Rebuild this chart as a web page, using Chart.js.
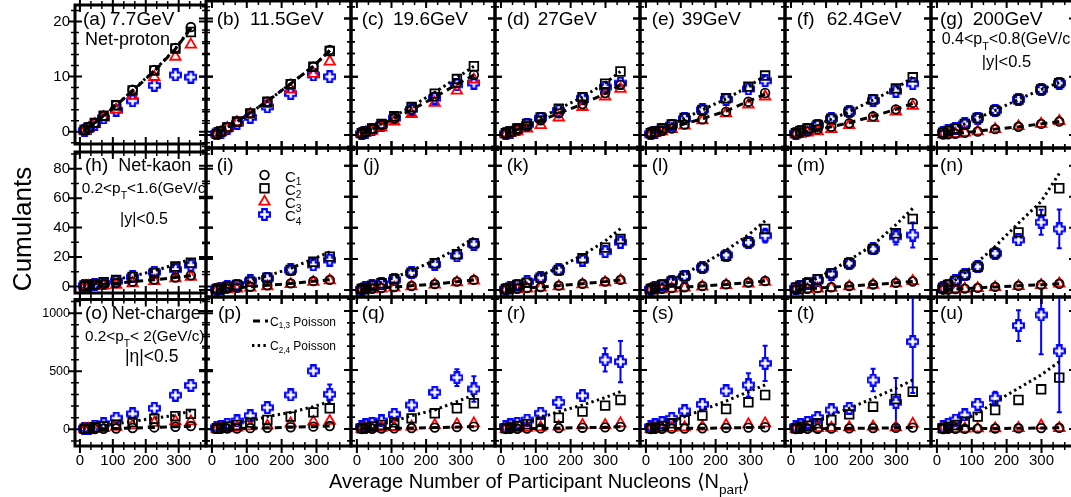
<!DOCTYPE html>
<html><head><meta charset="utf-8">
<script src="https://cdn.jsdelivr.net/npm/chart.js@4.4.1/dist/chart.umd.min.js"></script>
<style>
html,body{margin:0;padding:0;background:#fff;}
body{width:1071px;height:497px;overflow:hidden;}
#wrap{position:relative;width:1071px;height:497px;overflow:hidden;font-family:"Liberation Sans",Arial,Helvetica,sans-serif;color:#000;background:#fff;}
#wrap canvas{position:absolute;}
.clip{position:absolute;overflow:hidden;}
.t{position:absolute;white-space:nowrap;line-height:1;}
.sb{position:relative;font-size:0.68em;}
</style></head><body><div id="wrap"></div>
<script>
// ---------------- DATA ----------------
const energies = ['7.7GeV','11.5GeV','19.6GeV','27GeV','39GeV','62.4GeV','200GeV'];
const panelLetters = [['a','b','c','d','e','f','g'],['h','i','j','k','l','m','n'],['o','p','q','r','s','t','u']];
const speciesNames = ['Net-proton','Net-kaon','Net-charge'];
const xTickLabels = [0, 100, 200, 300];
const yTickLabels = [[0, 10, 20], [0, 20, 40, 60, 80], [0, 500, 1000]];

// <Npart> per energy (centrality 0-5% ... 70-80%)
const npart = [
 [337, 290, 226, 160, 110, 72, 45, 26, 14],
 [338, 291, 226, 159, 110, 72, 44, 26, 14],
 [338, 289, 225, 158, 108, 71, 44, 25, 14],
 [343, 299, 234, 166, 114, 75, 47, 27, 14],
 [342, 294, 230, 162, 111, 74, 46, 26, 14],
 [347, 299, 234, 166, 115, 76, 47, 27, 14],
 [351, 299, 234, 167, 117, 80, 53, 32, 18]];

// Net-proton
const protonC1 = [
 [19.0, 15.2, 11.2, 7.6, 4.8, 2.9, 1.6, 0.75, 0.3],
 [14.6, 11.7, 8.8, 5.7, 3.7, 2.3, 1.3, 0.6, 0.2],
 [10.3, 8.9, 6.6, 4.4, 2.9, 1.7, 1.0, 0.5, 0.2],
 [8.6, 7.2, 5.3, 3.7, 2.5, 1.5, 0.9, 0.5, 0.2],
 [7.2, 5.7, 4.0, 2.7, 1.8, 1.1, 0.7, 0.4, 0.2],
 [5.5, 4.4, 3.2, 2.0, 1.4, 1.0, 0.6, 0.4, 0.2],
 [2.3, 1.9, 1.4, 1.0, 0.6, 0.35, 0.2, 0.12, 0.06]];
const protonC2 = [
 [18.1, 15.1, 11.1, 7.5, 4.8, 2.9, 1.6, 0.75, 0.3],
 [14.4, 11.7, 8.7, 5.7, 3.7, 2.3, 1.3, 0.6, 0.2],
 [11.8, 9.6, 7.1, 4.8, 3.2, 1.9, 1.1, 0.6, 0.3],
 [10.9, 8.8, 6.5, 4.5, 3.0, 1.9, 1.1, 0.6, 0.3],
 [10.2, 8.3, 6.3, 4.3, 2.9, 1.8, 1.1, 0.6, 0.3],
 [9.9, 8.0, 6.1, 4.0, 2.8, 1.7, 1.1, 0.7, 0.3],
 [8.9, 7.8, 6.1, 4.2, 2.9, 1.9, 1.1, 0.7, 0.4]];
const protonC3 = [
 [15.8, 13.6, 9.9, 6.5, 4.0, 2.6, 1.4, 0.6, 0.2],
 [12.6, 10.5, 7.8, 5.3, 3.6, 2.2, 1.2, 0.5, 0.2],
 [9.5, 7.6, 5.5, 3.6, 2.3, 1.3, 0.7, 0.4, 0.2],
 [7.9, 6.6, 4.8, 3.0, 1.7, 1.1, 0.6, 0.3, 0.1],
 [6.6, 5.2, 3.7, 2.5, 1.6, 1.0, 0.6, 0.3, 0.1],
 [5.0, 4.0, 2.9, 1.7, 1.0, 0.6, 0.4, 0.2, 0.1],
 [2.4, 1.9, 1.5, 1.0, 0.6, 0.4, 0.2, 0.1, 0.05]];
const protonC4 = [
 [9.9, 10.3, 8.4, 5.6, 3.9, 2.5, 1.3, 0.6, 0.2],
 [10.0, 10.3, 7.1, 4.8, 3.0, 2.0, 1.1, 0.5, 0.2],
 [8.9, 8.6, 6.3, 4.4, 2.9, 1.7, 1.0, 0.5, 0.2],
 [8.9, 8.2, 6.3, 4.2, 2.9, 1.8, 1.0, 0.5, 0.2],
 [9.3, 7.9, 6.1, 4.3, 2.8, 1.7, 1.0, 0.5, 0.2],
 [8.8, 7.5, 5.9, 4.0, 2.8, 1.7, 1.0, 0.6, 0.3],
 [8.9, 7.8, 6.1, 4.2, 2.9, 1.9, 1.1, 0.7, 0.4]];
const protonC4err = [
 [1.0, 0.6, 0.4, 0.3, 0.2, 0.1, 0.1, 0.05, 0.03],
 [0.5, 0.5, 0.3, 0.2, 0.1, 0.1, 0.05, 0.03, 0.02],
 [0.5, 0.4, 0.3, 0.2, 0.1, 0.1, 0.05, 0.03, 0.02],
 [0.4, 0.3, 0.2, 0.1, 0.1, 0.05, 0.03, 0.02, 0.01],
 [0.4, 0.3, 0.2, 0.1, 0.1, 0.05, 0.03, 0.02, 0.01],
 [0.4, 0.3, 0.2, 0.1, 0.1, 0.05, 0.03, 0.02, 0.01],
 [0.3, 0.2, 0.1, 0.1, 0.05, 0.03, 0.02, 0.01, 0.01]];
const protonPois13 = [
 [18.8, 15.0, 11.0, 7.4, 4.8, 2.9, 1.6, 0.8, 0.3],
 [14.5, 11.8, 8.8, 5.8, 3.8, 2.3, 1.3, 0.6, 0.2],
 [10.3, 8.7, 6.5, 4.3, 2.9, 1.7, 1.0, 0.5, 0.2],
 [8.6, 7.1, 5.3, 3.7, 2.5, 1.5, 0.9, 0.5, 0.2],
 [7.0, 5.8, 4.1, 2.8, 1.9, 1.2, 0.7, 0.4, 0.2],
 [5.4, 4.4, 3.2, 2.1, 1.4, 0.9, 0.6, 0.3, 0.15],
 [2.3, 1.9, 1.4, 1.0, 0.65, 0.4, 0.25, 0.15, 0.08]];
const protonPois24 = [
 [18.8, 15.1, 11.1, 7.5, 4.8, 2.9, 1.6, 0.8, 0.3],
 [14.5, 11.8, 8.8, 5.8, 3.8, 2.3, 1.3, 0.6, 0.2],
 [11.8, 9.8, 7.3, 4.9, 3.2, 1.9, 1.1, 0.6, 0.3],
 [10.9, 8.9, 6.5, 4.5, 3.0, 1.8, 1.1, 0.6, 0.3],
 [10.2, 8.3, 6.2, 4.3, 2.9, 1.8, 1.1, 0.6, 0.3],
 [9.9, 8.0, 6.0, 4.0, 2.7, 1.7, 1.0, 0.6, 0.3],
 [9.0, 7.8, 6.1, 4.2, 2.9, 1.9, 1.2, 0.7, 0.4]];

// Net-kaon
const kaonC1 = [
 [7.5, 6.0, 4.6, 3.2, 2.2, 1.5, 0.9, 0.5, 0.3],
 [6.5, 5.7, 4.3, 3.0, 2.1, 1.4, 0.9, 0.5, 0.3],
 [6.5, 5.4, 3.8, 2.6, 1.9, 1.3, 0.8, 0.5, 0.2],
 [6.5, 5.4, 4.0, 2.8, 1.9, 1.3, 0.8, 0.5, 0.2],
 [5.8, 4.8, 3.6, 2.6, 1.8, 1.2, 0.8, 0.4, 0.2],
 [5.5, 4.6, 3.5, 2.5, 1.8, 1.2, 0.8, 0.4, 0.2],
 [4.0, 3.4, 2.7, 2.0, 1.4, 0.9, 0.6, 0.3, 0.2]];
const kaonC2 = [
 [16.1, 13.5, 9.2, 6.4, 4.3, 2.8, 1.5, 1.0, 0.6],
 [21.5, 18.2, 12.9, 7.9, 5.4, 3.2, 2.1, 1.1, 0.6],
 [30.0, 23.0, 17.2, 11.2, 6.9, 4.3, 2.8, 1.5, 0.6],
 [32.8, 27.3, 20.4, 12.9, 7.9, 4.7, 3.2, 1.5, 0.6],
 [39.3, 30.7, 22.1, 14.4, 9.0, 5.5, 3.3, 1.7, 0.7],
 [45.7, 36.5, 26.4, 17.2, 10.7, 6.9, 4.3, 2.8, 1.5],
 [65.5, 50.9, 37.1, 23.6, 15.0, 9.7, 5.8, 3.2, 1.5]];
const kaonC3 = [
 [6.4, 5.4, 3.6, 2.1, 1.1, 0.6, 0.3, 0.2, 0.1],
 [6.2, 5.2, 3.8, 2.4, 1.5, 0.9, 0.5, 0.3, 0.1],
 [6.0, 5.0, 3.5, 2.3, 1.5, 0.9, 0.5, 0.3, 0.1],
 [6.3, 5.0, 3.6, 2.4, 1.5, 0.9, 0.5, 0.3, 0.1],
 [5.2, 4.2, 3.2, 2.2, 1.5, 0.9, 0.5, 0.3, 0.1],
 [5.8, 4.3, 3.3, 2.3, 1.4, 0.9, 0.5, 0.3, 0.1],
 [4.2, 3.2, 2.5, 1.8, 1.2, 0.8, 0.5, 0.3, 0.1]];
const kaonC4 = [
 [14.4, 11.4, 9.7, 6.4, 3.6, 2.1, 1.3, 0.8, 0.5],
 [19.3, 16.1, 12.9, 7.5, 5.8, 3.2, 2.0, 1.0, 0.5],
 [29.5, 22.0, 16.5, 11.0, 6.5, 4.0, 2.6, 1.4, 0.6],
 [30.7, 24.7, 19.3, 12.9, 7.9, 5.4, 3.0, 1.5, 0.6],
 [35.0, 30.5, 22.5, 14.4, 8.7, 5.3, 3.2, 1.6, 0.6],
 [35.4, 34.3, 26.4, 17.2, 10.3, 6.4, 4.3, 2.1, 1.1],
 [39.3, 43.6, 32.2, 23.6, 15.0, 9.7, 5.8, 3.2, 1.5]];
const kaonC4err = [
 [1.5, 1.2, 0.8, 0.5, 0.3, 0.2, 0.1, 0.1, 0.05],
 [2.0, 1.5, 1.0, 0.6, 0.4, 0.2, 0.1, 0.1, 0.05],
 [2.5, 2.0, 1.2, 0.7, 0.4, 0.2, 0.1, 0.1, 0.05],
 [3.5, 2.5, 1.5, 0.8, 0.5, 0.3, 0.2, 0.1, 0.05],
 [4.5, 2.5, 1.5, 0.8, 0.5, 0.3, 0.2, 0.1, 0.05],
 [8.0, 5.0, 2.0, 1.0, 0.6, 0.3, 0.2, 0.1, 0.05],
 [12.5, 8.0, 3.0, 1.5, 0.8, 0.4, 0.2, 0.1, 0.05]];
const kaonPois13 = [
 [7.3, 6.0, 4.5, 3.2, 2.2, 1.5, 0.9, 0.5, 0.3],
 [6.6, 5.6, 4.2, 3.0, 2.1, 1.4, 0.9, 0.5, 0.3],
 [6.4, 5.3, 3.9, 2.7, 1.9, 1.3, 0.8, 0.5, 0.2],
 [6.4, 5.4, 4.0, 2.8, 1.9, 1.3, 0.8, 0.5, 0.2],
 [5.8, 4.8, 3.6, 2.6, 1.8, 1.2, 0.8, 0.4, 0.2],
 [5.5, 4.6, 3.5, 2.5, 1.8, 1.2, 0.8, 0.4, 0.2],
 [4.0, 3.4, 2.7, 2.0, 1.4, 0.9, 0.6, 0.3, 0.2]];
const kaonPois24 = [
 [18.5, 15.0, 10.5, 7.0, 4.7, 3.0, 1.8, 1.0, 0.5],
 [24.5, 20.0, 14.0, 9.0, 6.0, 3.7, 2.2, 1.2, 0.6],
 [33.5, 26.5, 19.0, 12.5, 8.0, 5.0, 3.0, 1.6, 0.8],
 [39.5, 31.5, 22.5, 14.5, 9.3, 5.8, 3.4, 1.9, 0.9],
 [44.5, 35.5, 25.5, 16.5, 10.5, 6.5, 3.8, 2.1, 1.0],
 [52.5, 42.0, 29.0, 19.3, 12.5, 7.8, 4.6, 2.5, 1.2],
 [75.0, 57.0, 43.0, 28.0, 18.0, 11.0, 6.5, 3.5, 1.8]];

// Net-charge
const chargeC1 = [
 [28, 22, 16, 11, 7, 4.5, 2.8, 1.6, 0.8],
 [25, 20, 15, 10, 7, 4.5, 2.8, 1.6, 0.8],
 [20, 16, 12, 8, 5.5, 3.5, 2.2, 1.3, 0.6],
 [18, 14, 11, 7.5, 5, 3.2, 2, 1.2, 0.6],
 [15, 12, 9, 6.5, 4.5, 3, 1.8, 1, 0.5],
 [12, 10, 8, 5.5, 4, 2.5, 1.5, 0.9, 0.4],
 [10, 8, 6, 4.5, 3, 2, 1.2, 0.7, 0.3]];
const chargeC2 = [
 [133, 113, 90, 62, 40, 25, 17, 9, 4],
 [175, 141, 105, 76, 54, 34, 20, 11, 6],
 [218, 175, 133, 90, 56, 34, 20, 11, 6],
 [246, 198, 147, 96, 62, 40, 25, 14, 6],
 [288, 226, 169, 113, 76, 48, 25, 14, 6],
 [316, 254, 189, 124, 76, 48, 28, 17, 6],
 [435, 336, 246, 161, 105, 62, 34, 17, 6]];
const chargeC3 = [
 [68, 68, 56, 34, 20, 11, 6, 3, 1],
 [68, 62, 48, 28, 23, 11, 6, 3, 1],
 [48, 40, 34, 20, 17, 10, 6, 3, 1],
 [48, 34, 34, 20, 14, 9, 5, 3, 1],
 [48, 40, 34, 20, 14, 9, 5, 3, 1],
 [45, 15, 20, 15, 10, 8, 5, 3, 1],
 [8, 30, 8, 6, 5, 4, 3, 2, 1]];
const chargeC4 = [
 [378, 294, 181, 133, 96, 48, 28, 11, 6],
 [294, 492, 288, 181, 113, 68, 40, 20, 11],
 [339, 435, 311, 203, 124, 68, 48, 34, 17],
 [570, 585, 282, 226, 133, 76, 48, 34, 20],
 [556, 373, 322, 209, 153, 90, 54, 34, 17],
 [740, 226, 415, 175, 161, 96, 56, 34, 17],
 [661, 966, 876, 260, 209, 119, 76, 40, 20]];
const chargeC4err = [
 [45, 20, 15, 15, 15, 8, 5, 3, 2],
 [82, 42, 15, 12, 10, 8, 5, 3, 2],
 [108, 70, 15, 12, 10, 8, 5, 3, 2],
 [175, 99, 25, 15, 12, 8, 5, 3, 2],
 [150, 100, 25, 15, 12, 8, 5, 3, 2],
 [435, 205, 95, 25, 15, 10, 6, 3, 2],
 [520, 333, 130, 55, 25, 12, 8, 4, 2]];
const chargePois13 = [
 [27, 22, 16, 11, 7, 4.5, 2.8, 1.6, 0.8],
 [25, 20, 15, 10, 7, 4.5, 2.8, 1.6, 0.8],
 [20, 16, 12, 8, 5.5, 3.5, 2.2, 1.3, 0.6],
 [18, 14, 11, 7.5, 5, 3.2, 2, 1.2, 0.6],
 [15, 12, 9, 6.5, 4.5, 3, 1.8, 1, 0.5],
 [12, 10, 8, 5.5, 4, 2.5, 1.5, 0.9, 0.4],
 [10, 8, 6, 4.5, 3, 2, 1.2, 0.7, 0.3]];
const chargePois24 = [
 [161, 119, 96, 68, 48, 30, 17, 9, 4],
 [232, 189, 141, 105, 68, 42, 24, 13, 6],
 [288, 232, 161, 113, 68, 42, 24, 13, 6],
 [316, 266, 203, 147, 96, 58, 33, 17, 8],
 [373, 316, 237, 161, 105, 63, 36, 19, 9],
 [415, 345, 260, 175, 119, 72, 42, 22, 10],
 [570, 458, 345, 230, 133, 80, 46, 25, 12]];

// ---------------- LAYOUT ----------------
const colEdges = [75, 206, 351, 495, 640, 785, 931, 1076];
const rowEdges = [1, 148, 297, 446];
const xRangeFirstCol = [-15, 383];
const xRangeOther = [-17, 399];
const yRanges = [[-2.24, 23.0], [-4.5, 91.4], [-144, 1118]];
const yMajor = [10, 20, 500];
const yMinor = [2, 10, 100];
const yTickFont = [15, 15, 12.5];
const xMajor = 100, xMinor = 100 / 3;
const FONT = '"Liberation Sans", Arial, Helvetica, sans-serif';

Chart.defaults.font.family = FONT;
Chart.defaults.color = '#000';

const wrap = document.getElementById('wrap');

function makeCross() {
  const c = document.createElement('canvas');
  c.width = 13; c.height = 13;
  const g = c.getContext('2d');
  const m = 6.5, a = 2.3, L = 5.4;
  g.beginPath();
  g.moveTo(m - a, m - L); g.lineTo(m + a, m - L); g.lineTo(m + a, m - a); g.lineTo(m + L, m - a);
  g.lineTo(m + L, m + a); g.lineTo(m + a, m + a); g.lineTo(m + a, m + L); g.lineTo(m - a, m + L);
  g.lineTo(m - a, m + a); g.lineTo(m - L, m + a); g.lineTo(m - L, m - a); g.lineTo(m - a, m - a);
  g.closePath();
  g.fillStyle = '#ffffff'; g.fill();
  g.lineWidth = 2.1; g.strokeStyle = '#0000ff'; g.stroke();
  return c;
}
const crossImg = makeCross();

function tickValues(min, max, step) {
  const out = [];
  let k = Math.ceil(min / step - 1e-9);
  for (; k * step <= max + 1e-9; k++) out.push(k * step);
  return out;
}

const framePlugin = {
  id: 'frameTicks',
  beforeDatasetsDraw(chart) {
    const { ctx, chartArea: a, scales: { x, y } } = chart;
    ctx.save();
    ctx.beginPath(); ctx.rect(a.left, a.top, a.right - a.left, a.bottom - a.top); ctx.clip();
    ctx.strokeStyle = '#0000ff'; ctx.lineWidth = 2;
    chart.data.datasets.forEach(ds => {
      if (!ds.errors) return;
      ds.data.forEach((pt, j) => {
        const e = ds.errors[j];
        const px = x.getPixelForValue(pt.x);
        const y1 = y.getPixelForValue(pt.y - e), y2 = y.getPixelForValue(pt.y + e);
        if (Math.abs(y1 - y2) < 11) return;
        ctx.beginPath();
        ctx.moveTo(px, y1); ctx.lineTo(px, y2);
        ctx.moveTo(px - 2.5, y1); ctx.lineTo(px + 2.5, y1);
        ctx.moveTo(px - 2.5, y2); ctx.lineTo(px + 2.5, y2);
        ctx.stroke();
      });
    });
    ctx.restore();
  },
  afterDatasetsDraw(chart, args, opts) {
    const { ctx, chartArea: a, scales: { x, y } } = chart;
    ctx.save();
    ctx.strokeStyle = '#000';
    const xMaj = tickValues(x.min, x.max, opts.xMajor);
    const xMin = tickValues(x.min, x.max, opts.xMinor);
    const yMaj = tickValues(y.min, y.max, opts.yMajor);
    const yMin = tickValues(y.min, y.max, opts.yMinor);
    const isMaj = (v, list) => list.some(m => Math.abs(m - v) < 1e-6);
    ctx.lineWidth = 1.5;
    ctx.beginPath();
    xMin.forEach(v => { if (isMaj(v, xMaj)) return; const p = x.getPixelForValue(v);
      ctx.moveTo(p, a.bottom - 4); ctx.lineTo(p, a.bottom + 4); ctx.moveTo(p, a.top - 4); ctx.lineTo(p, a.top + 4); });
    yMin.forEach(v => { if (isMaj(v, yMaj)) return; const p = y.getPixelForValue(v);
      ctx.moveTo(a.left - 4, p); ctx.lineTo(a.left + 4, p); ctx.moveTo(a.right - 4, p); ctx.lineTo(a.right + 4, p); });
    ctx.stroke();
    ctx.lineWidth = 2;
    ctx.beginPath();
    xMaj.forEach(v => { const p = x.getPixelForValue(v);
      ctx.moveTo(p, a.bottom - 7); ctx.lineTo(p, a.bottom + 7); ctx.moveTo(p, a.top - 7); ctx.lineTo(p, a.top + 7); });
    yMaj.forEach(v => { const p = y.getPixelForValue(v);
      ctx.moveTo(a.left - 7, p); ctx.lineTo(a.left + 7, p); ctx.moveTo(a.right - 7, p); ctx.lineTo(a.right + 7, p); });
    ctx.stroke();
    ctx.lineWidth = 3;
    ctx.strokeRect(a.left, a.top, a.right - a.left, a.bottom - a.top);

    // legends (page coords converted by canvas offset)
    const ox = opts.ox, oy = opts.oy;
    if (opts.markerLegend) {
      const lx = 264.5 - ox;
      const ly = [175, 188.3, 201.7, 214.5].map(v => v - oy);
      ctx.lineWidth = 1.8;
      ctx.strokeStyle = '#000';
      ctx.beginPath(); ctx.arc(lx, ly[0], 4.3, 0, Math.PI * 2); ctx.stroke();
      ctx.strokeRect(lx - 4.3, ly[1] - 4.3, 8.6, 8.6);
      ctx.strokeStyle = '#ff0000';
      ctx.beginPath(); ctx.moveTo(lx, ly[2] - 6); ctx.lineTo(lx + 5.2, ly[2] + 3); ctx.lineTo(lx - 5.2, ly[2] + 3); ctx.closePath(); ctx.stroke();
      ctx.drawImage(crossImg, lx - 6.5, ly[3] - 6.5);
    }
    if (opts.lineLegend) {
      ctx.strokeStyle = '#000'; ctx.lineWidth = 3;
      ctx.setLineDash([7, 5]);
      ctx.beginPath(); ctx.moveTo(253 - ox, 321 - oy); ctx.lineTo(268 - ox, 321 - oy); ctx.stroke();
      ctx.setLineDash([2.4, 3.3]);
      ctx.beginPath(); ctx.moveTo(252 - ox, 345.5 - oy); ctx.lineTo(268 - ox, 345.5 - oy); ctx.stroke();
      ctx.setLineDash([]);
    }
    ctx.restore();
  }
};

const rowSets = [
  { C1: protonC1, C2: protonC2, C3: protonC3, C4: protonC4, E4: protonC4err, P13: protonPois13, P24: protonPois24 },
  { C1: kaonC1, C2: kaonC2, C3: kaonC3, C4: kaonC4, E4: kaonC4err, P13: kaonPois13, P24: kaonPois24 },
  { C1: chargeC1, C2: chargeC2, C3: chargeC3, C4: chargeC4, E4: chargeC4err, P13: chargePois13, P24: chargePois24 }
];

function pts(xs, ys) { return xs.map((v, i) => ({ x: v, y: ys[i] })); }

function makePanel(r, c) {
  const fx = colEdges[c], fw = colEdges[c + 1] - fx, fy = rowEdges[r], fh = rowEdges[r + 1] - fy;
  const leftAxis = c === 0, bottomAxis = r === 2;
  const padL = leftAxis ? 75 : 10, padR = 10, padT = 10, padB = bottomAxis ? 40 : 10;
  const cw = fw + padL + padR, ch = fh + padT + padB;
  const cv = document.createElement('canvas');
  cv.width = cw; cv.height = ch;
  cv.style.left = (fx - padL) + 'px'; cv.style.top = (fy - padT) + 'px';
  cv.style.width = cw + 'px'; cv.style.height = ch + 'px';
  wrap.appendChild(cv);

  const S = rowSets[r], np = npart[c];
  const xr = c === 0 ? xRangeFirstCol : xRangeOther;
  const datasets = [
    { label: 'C1,3 Poisson', data: pts(np, S.P13[c]), showLine: true, pointRadius: 0, borderColor: '#000', borderWidth: 3, borderDash: [7, 5], order: 0 },
    { label: 'C2,4 Poisson', data: pts(np, S.P24[c]), showLine: true, pointRadius: 0, borderColor: '#000', borderWidth: 3, borderDash: [2.4, 3.3], order: 1 },
    { label: 'C2', data: pts(np, S.C2[c]), pointStyle: 'rect', pointRadius: 6.1, borderColor: '#000', backgroundColor: 'rgba(0,0,0,0)', pointBorderWidth: 1.8, borderWidth: 1.8, order: 2 },
    { label: 'C1', data: pts(np, S.C1[c]), pointStyle: 'circle', pointRadius: 4.3, borderColor: '#000', backgroundColor: 'rgba(0,0,0,0)', pointBorderWidth: 1.8, borderWidth: 1.8, order: 3 },
    { label: 'C3', data: pts(np, S.C3[c]), pointStyle: 'triangle', pointRadius: 6, borderColor: '#ff0000', backgroundColor: 'rgba(0,0,0,0)', pointBorderWidth: 1.8, borderWidth: 1.8, order: 4 },
    { label: 'C4', data: pts(np, S.C4[c]), pointStyle: crossImg, pointRadius: 5.5, borderColor: '#0000ff', backgroundColor: '#0000ff', errors: S.E4[c], order: 5 }
  ];

  new Chart(cv, {
    type: 'scatter',
    data: { datasets },
    options: {
      responsive: false, animation: false, devicePixelRatio: 1, events: [],
      layout: { padding: { left: 10, right: 10, top: 10, bottom: 10 } },
      scales: {
        x: {
          type: 'linear', min: xr[0], max: xr[1], display: bottomAxis,
          afterFit: s => { if (bottomAxis) s.height = 30; },
          afterBuildTicks: s => { s.ticks = xTickLabels.map(v => ({ value: v })); },
          grid: { display: false, drawTicks: false }, border: { display: false },
          ticks: { autoSkip: false, maxRotation: 0, padding: 6,
                   font: { size: 15, family: FONT }, color: '#000', callback: v => String(v) }
        },
        y: {
          type: 'linear', min: yRanges[r][0], max: yRanges[r][1], display: leftAxis,
          afterFit: s => { if (leftAxis) s.width = 65; },
          afterBuildTicks: s => { s.ticks = yTickLabels[r].map(v => ({ value: v })); },
          grid: { display: false, drawTicks: false }, border: { display: false },
          ticks: { autoSkip: false, padding: 5,
                   font: { size: yTickFont[r], family: FONT }, color: '#000', callback: v => String(v) }
        }
      },
      plugins: {
        legend: { display: false }, tooltip: { enabled: false },
        frameTicks: { xMajor, xMinor, yMajor: yMajor[r], yMinor: yMinor[r], ox: fx - padL, oy: fy - padT,
                      markerLegend: r === 1 && c === 1, lineLegend: r === 2 && c === 1 }
      }
    },
    plugins: [framePlugin]
  });
}

for (let r = 0; r < 3; r++) for (let c = 0; c < 7; c++) makePanel(r, c);

// ---------------- TEXT OVERLAYS ----------------
const clips = [];
for (let r = 0; r < 3; r++) { clips.push([]); for (let c = 0; c < 7; c++) {
  const d = document.createElement('div'); d.className = 'clip';
  const fx = colEdges[c], fy = rowEdges[r];
  d.style.left = (fx + 1.5) + 'px'; d.style.top = (fy + 1.5) + 'px';
  d.style.width = (colEdges[c + 1] - fx - 3) + 'px'; d.style.height = (rowEdges[r + 1] - fy - 3) + 'px';
  wrap.appendChild(d); clips[r].push(d);
}}
function addText(r, c, html, x, base, size) {
  const d = document.createElement('div'); d.className = 't';
  d.innerHTML = html; d.style.fontSize = size + 'px';
  let parent = wrap, ox = 0, oy = 0;
  if (r !== null) { parent = clips[r][c]; ox = colEdges[c] + 1.5; oy = rowEdges[r] + 1.5; }
  d.style.left = (x - ox) + 'px'; d.style.top = (base - 0.8465 * size - oy) + 'px';
  parent.appendChild(d); return d;
}
const letterX = [[83, 216.7, 361.7, 506.7, 651.7, 796.7, 940], [85, 216.7, 363, 506.7, 651.7, 796.7, 940], [85, 218, 361.7, 506.7, 651.7, 796.7, 940]];
const letterBase = [25, 171, 319];
const energyX = [110, 250, 393, 537.7, 681.7, 826.7, 972.7];
for (let r = 0; r < 3; r++) for (let c = 0; c < 7; c++) addText(r, c, '(' + panelLetters[r][c] + ')', letterX[r][c], letterBase[r], 19);
for (let c = 0; c < 7; c++) addText(0, c, energies[c], energyX[c], 25, 19);
addText(0, 0, speciesNames[0], 85, 45, 18);
addText(1, 0, speciesNames[1], 118.3, 171, 18);
addText(2, 0, speciesNames[2], 111.7, 319, 18);
const sub = (s, top) => '<span class="sb" style="top:' + top + 'em">' + s + '</span>';
addText(0, 6, '0.4&lt;p' + sub('T', 0.55) + '&lt;0.8(GeV/c', 941.7, 45, 16);
addText(0, 6, '|y|&lt;0.5', 981.7, 67, 16.5);
addText(1, 0, '0.2&lt;p' + sub('T', 0.55) + '&lt;1.6(GeV/c', 81.7, 193, 15.4);
addText(1, 0, '|y|&lt;0.5', 120, 225, 16);
addText(2, 0, '0.2&lt;p' + sub('T', 0.55) + '&lt; 2(GeV/c)', 85, 341, 15.3);
addText(2, 0, '|η|&lt;0.5', 125, 363, 17.5);
// marker legend (panel i)
const legBase = [181.3, 194.6, 208, 220.8];
['1', '2', '3', '4'].forEach((s, i) => addText(1, 1, 'C' + sub(s, 0.35), 285, legBase[i], 15));
// line legend (panel p)
addText(2, 1, 'C' + sub('1,3', 0.35) + ' Poisson', 270, 325.7, 12);
addText(2, 1, 'C' + sub('2,4', 0.35) + ' Poisson', 270, 350, 12);
// axis titles
addText(null, null, 'Average Number of Participant Nucleons ⟨N' + sub('part', 0.4) + '⟩', 329, 488, 20);
const yt = document.createElement('div'); yt.className = 't'; yt.textContent = 'Cumulants';
yt.style.fontSize = '26px'; yt.style.left = '22px'; yt.style.top = '229px';
yt.style.transform = 'translate(-50%,-50%) rotate(-90deg)';
wrap.appendChild(yt);
</script></body></html>
